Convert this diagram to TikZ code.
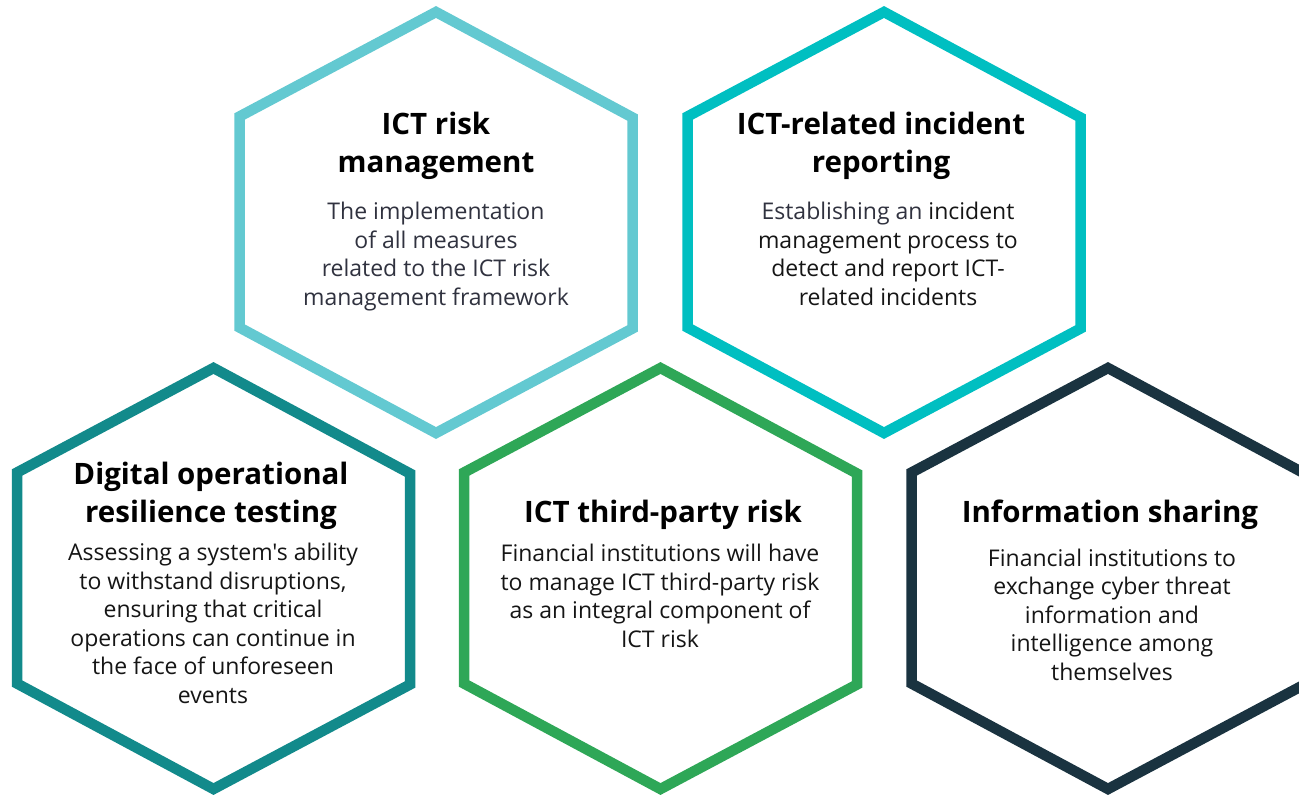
\documentclass[tikz,border=0pt]{standalone}
\usepackage{fontspec}
\newfontfamily\hexfont{Open Sans}
\definecolor{riskcyan}{HTML}{63C9D1}
\definecolor{incidentteal}{HTML}{00BFC1}
\definecolor{testingteal}{HTML}{128A8B}
\definecolor{thirdgreen}{HTML}{2EA757}
\definecolor{sharingnavy}{HTML}{1A3340}
\definecolor{bodygrey}{HTML}{30323F}
\definecolor{bodyblack}{HTML}{151515}

\begin{document}
\begin{tikzpicture}
	[x = 1pt, y = -1pt,
	hexline/.style ={line width = 10.5pt, line join = miter},
	title/.style ={font = \hexfont\fontsize{29.5}{38}\selectfont\bfseries, align = center, anchor = base, inner sep = 0pt},
	body/.style ={font = \hexfont\fontsize{23}{28.5}\selectfont, align = center, anchor = base, inner sep = 0pt, bodyblack}]
	\clip (0,0) rectangle (1299,796);
	% outlines: centre x / centre y / colour
	\foreach \cx/\cy/\col in {436/222.5/riskcyan, 884/222.5/incidentteal,
		213.5/578.5/testingteal, 660.5/578.5/thirdgreen, 1108/578.5/sharingnavy}
		\draw[hexline, \col] (\cx,\cy-210.5) -- ++(196.5,105.5) -- ++(0,211)
		-- (\cx,\cy+210.5) -- ++(-196.5,-105.5) -- ++(0,-211) -- cycle;
	% top row (nodes sit on the baseline of their last line)
	\node[title] (riskT) at (436,172) {ICT risk\\management};
	\node[body, bodygrey] (riskB) at (436,305) {The implementation\\of all measures\\related to the ICT risk\\management framework};
	\node[title] (incidentT) at (881,172) {ICT-related incident\\reporting};
	\node[body] (incidentB) at (888,305) {\textcolor{bodygrey}{Establishing an} incident\\management process to\\detect and report ICT-\\related incidents};
	% bottom row
	\node[title] (testingT) at (211,522) {Digital operational\\resilience testing};
	\node[body] (testingB) at (213,703) {Assessing a system's ability\\to withstand disruptions,\\ensuring that critical\\operations can continue in\\the face of unforeseen\\events};
	\node[title] (thirdT) at (663,522) {ICT third-party risk};
	\node[body] (thirdB) at (660,647) {Financial institutions will have\\to manage ICT third-party risk\\as an integral component of\\ICT risk};
	\node[title] (sharingT) at (1110,522) {Information sharing};
	\node[body] (sharingB) at (1112,680) {Financial institutions to\\exchange cyber threat\\information and\\intelligence among\\themselves};
\end{tikzpicture}
\end{document}
